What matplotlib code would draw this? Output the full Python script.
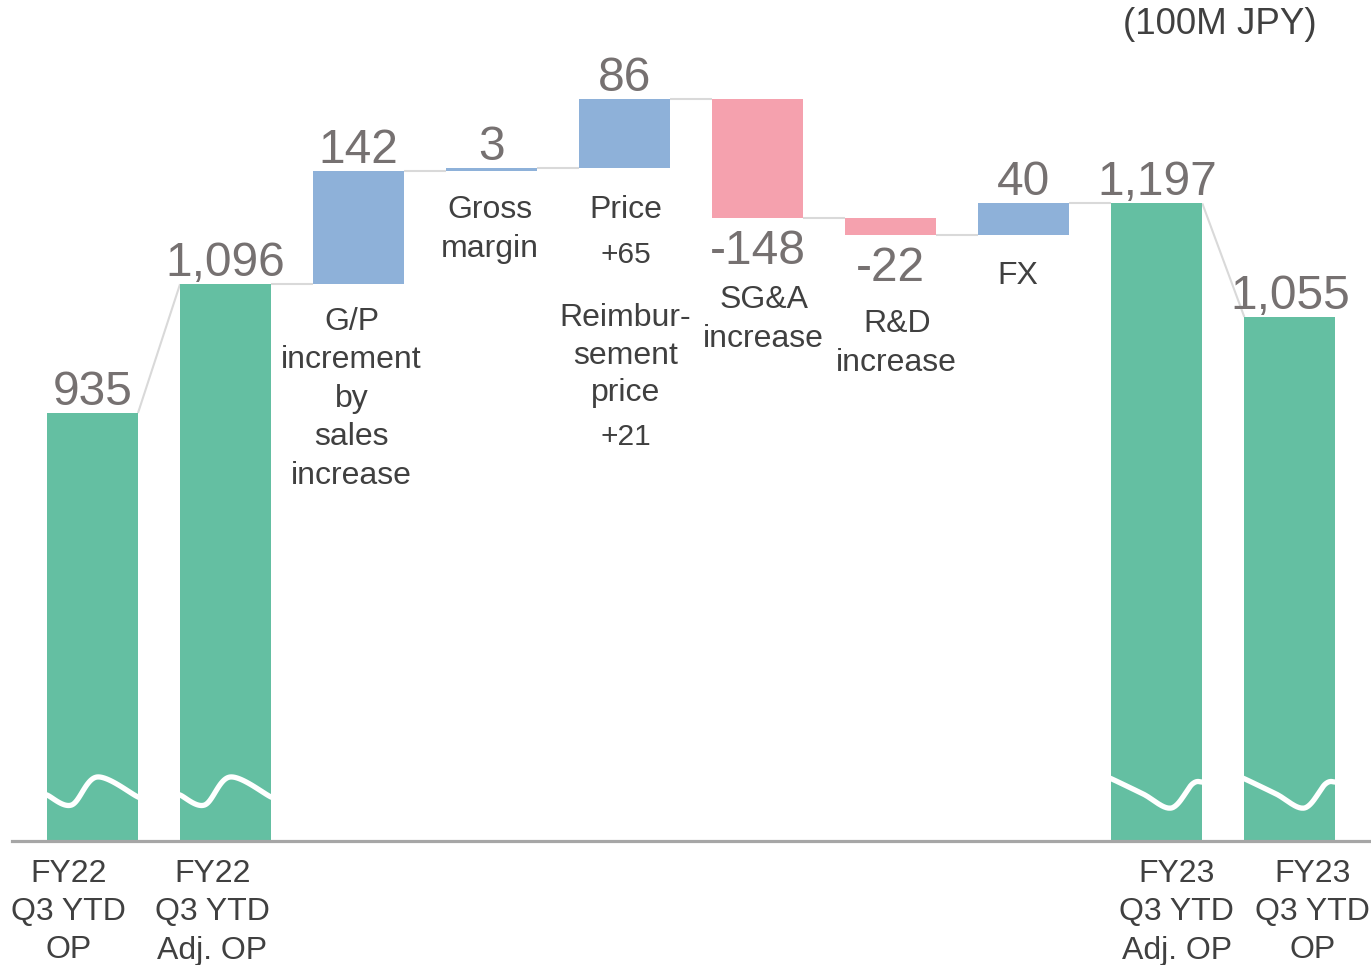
import matplotlib
matplotlib.use("Agg")
import matplotlib.pyplot as plt
import matplotlib.transforms as mtransforms
import numpy as np

plt.rcParams['font.family'] = ['Liberation Sans', 'DejaVu Sans']

# ---------------- data ----------------
start_labels = ["FY22\nQ3 YTD\nOP", "FY22\nQ3 YTD\nAdj. OP"]
start_values = [935, 1096]
delta_names = ["G/P\nincrement\nby\nsales\nincrease", "Gross\nmargin", "Price",
               "SG&A\nincrease", "R&D\nincrease", "FX"]
delta_values = [142, 3, 86, -148, -22, 40]
price_parts = ["+65", "Reimbur-\nsement\nprice", "+21"]
end_labels = ["FY23\nQ3 YTD\nAdj. OP", "FY23\nQ3 YTD\nOP"]
end_values = [1197, 1055]
unit_text = "(100M JPY)"

# ---------------- style ----------------
GREEN = "#64BFA2"
BLUE = "#8EB1D9"
PINK = "#F5A1AE"
VAL_COLOR = "#767171"
TXT_COLOR = "#404040"
CONN_COLOR = "#D9D9D9"
AXIS_COLOR = "#A6A6A6"
VAL_SIZE = 34.5
LAB_SIZE = 23
SUB_SIZE = 21.5

W_PX, H_PX = 1371, 965
fig = plt.figure(figsize=(W_PX / 100, H_PX / 100), dpi=100)
base_px = 841          # baseline pixel row (from top)
Y0 = 400               # value at baseline (broken axis)
px_per_unit = 0.8
ax = fig.add_axes([12 / W_PX, (H_PX - base_px) / H_PX, (W_PX - 12) / W_PX, base_px / H_PX])
ax.set_xlim(-0.605, 9.61)
ax.set_ylim(Y0, Y0 + base_px / px_per_unit)
for s in ["top", "right", "left"]:
    ax.spines[s].set_visible(False)
ax.spines["bottom"].set_color(AXIS_COLOR)
ax.spines["bottom"].set_linewidth(2.3)
ax.set_xticks([])
ax.set_yticks([])

bw = 0.684
n = len(start_values) + len(delta_values) + len(end_values)
xs = np.arange(n)

# compute waterfall
bottoms, heights, colors = [], [], []
for v in start_values:
    bottoms.append(0); heights.append(v); colors.append(GREEN)
level = start_values[-1]
for d in delta_values:
    bottoms.append(level); heights.append(d); colors.append(BLUE if d >= 0 else PINK)
    level += d
for v in end_values:
    bottoms.append(0); heights.append(v); colors.append(GREEN)

bars = ax.bar(xs, heights, bottom=bottoms, width=bw, color=colors,
              edgecolor="none", zorder=2)

# connectors
tops = [b + h for b, h in zip(bottoms, heights)]
for i in range(n - 1):
    x1 = xs[i] + bw / 2
    x2 = xs[i + 1] - bw / 2
    if i == 0 or i == n - 2:
        y1, y2 = tops[i], tops[i + 1]
    else:
        y1 = tops[i]
        y2 = y1
    ax.plot([x1, x2], [y1, y2], color=CONN_COLOR, lw=1.5, zorder=1,
            solid_capstyle="butt")

# value labels
values_shown = start_values + delta_values + end_values
for i in range(n):
    v = values_shown[i]
    txt = f"{v:,}"
    if 2 <= i < 2 + len(delta_values) and delta_values[i - 2] < 0:
        ax.annotate(txt, xy=(xs[i], tops[i]), xytext=(0, -46),
                    textcoords="offset pixels", ha="center", va="baseline",
                    fontsize=VAL_SIZE, color=VAL_COLOR, annotation_clip=False)
        continue
    ax.annotate(txt, xy=(xs[i], tops[i]), xytext=(0, 8),
                textcoords="offset pixels", ha="center", va="baseline",
                fontsize=VAL_SIZE, color=VAL_COLOR, annotation_clip=False)


def put_lines(xd, dx_px, y_first_px, text, spacing, size=LAB_SIZE, color=TXT_COLOR):
    off = mtransforms.offset_copy(ax.transData, fig=fig, x=dx_px / 100 * 72, y=0, units="points")
    t = mtransforms.blended_transform_factory(off, mtransforms.IdentityTransform())
    for k, line in enumerate(text.split("\n")):
        ypx = y_first_px + k * spacing
        fig.text(xd, H_PX - ypx, line, transform=t, ha="center", va="center_baseline",
                 fontsize=size, color=color)


# category labels for deltas: (dx px, first line y px)
cat_layout = [(-7, 318), (-2, 207), (1, 207), (6, 297), (6, 321), (-6, 273)]
for j, name in enumerate(delta_names):
    dx, y = cat_layout[j]
    put_lines(xs[2 + j], dx, y, name, 38.5)
# price breakdown
put_lines(xs[4], 1, 252, price_parts[0], 38, size=SUB_SIZE)
put_lines(xs[4], 1, 315, price_parts[1], 37.5)
put_lines(xs[4], 1, 434, price_parts[2], 38, size=SUB_SIZE)

# bottom category labels
tick_dx = [-24, -13, 20, 23]
tick_idx = [0, 1, n - 2, n - 1]
for lab, idx, dx in zip(start_labels + end_labels, tick_idx, tick_dx):
    put_lines(xs[idx], dx, 870, lab, 38.5)

# unit text
fig.text(1220 / W_PX, 1 - 25 / H_PX, unit_text, ha="center", va="center",
         fontsize=26.5, color=TXT_COLOR)


# broken-axis wave marks
def catmull(pts, m=25):
    p = np.array(pts, dtype=float)
    p = np.vstack([p[0] * 2 - p[1], p, p[-1] * 2 - p[-2]])
    out = []
    for i in range(1, len(p) - 2):
        p0, p1, p2, p3 = p[i - 1], p[i], p[i + 1], p[i + 2]
        for t in np.linspace(0, 1, m, endpoint=False):
            out.append(0.5 * (2 * p1 + (-p0 + p2) * t + (2 * p0 - 5 * p1 + 4 * p2 - p3) * t ** 2
                              + (-p0 + 3 * p1 - 3 * p2 + p3) * t ** 3))
    out.append(p[-2])
    return np.array(out)


wave_a = [(-0.05, 47), (0.0, 46), (0.27, 36), (0.55, 64), (1.0, 44), (1.05, 43)]
wave_b = [(-0.05, 64), (0.03, 61), (0.35, 47), (0.66, 33), (0.89, 57), (1.0, 59), (1.05, 59)]
for idx, wave in [(0, wave_a), (1, wave_a), (n - 2, wave_b), (n - 1, wave_b)]:
    c = catmull(wave)
    xw = xs[idx] - bw / 2 + c[:, 0] * bw
    yw = Y0 + c[:, 1] / px_per_unit
    ln, = ax.plot(xw, yw, color="white", lw=3.8, zorder=3, solid_capstyle="round")
    ln.set_clip_path(bars[idx])

fig.savefig("out.png", dpi=100)
